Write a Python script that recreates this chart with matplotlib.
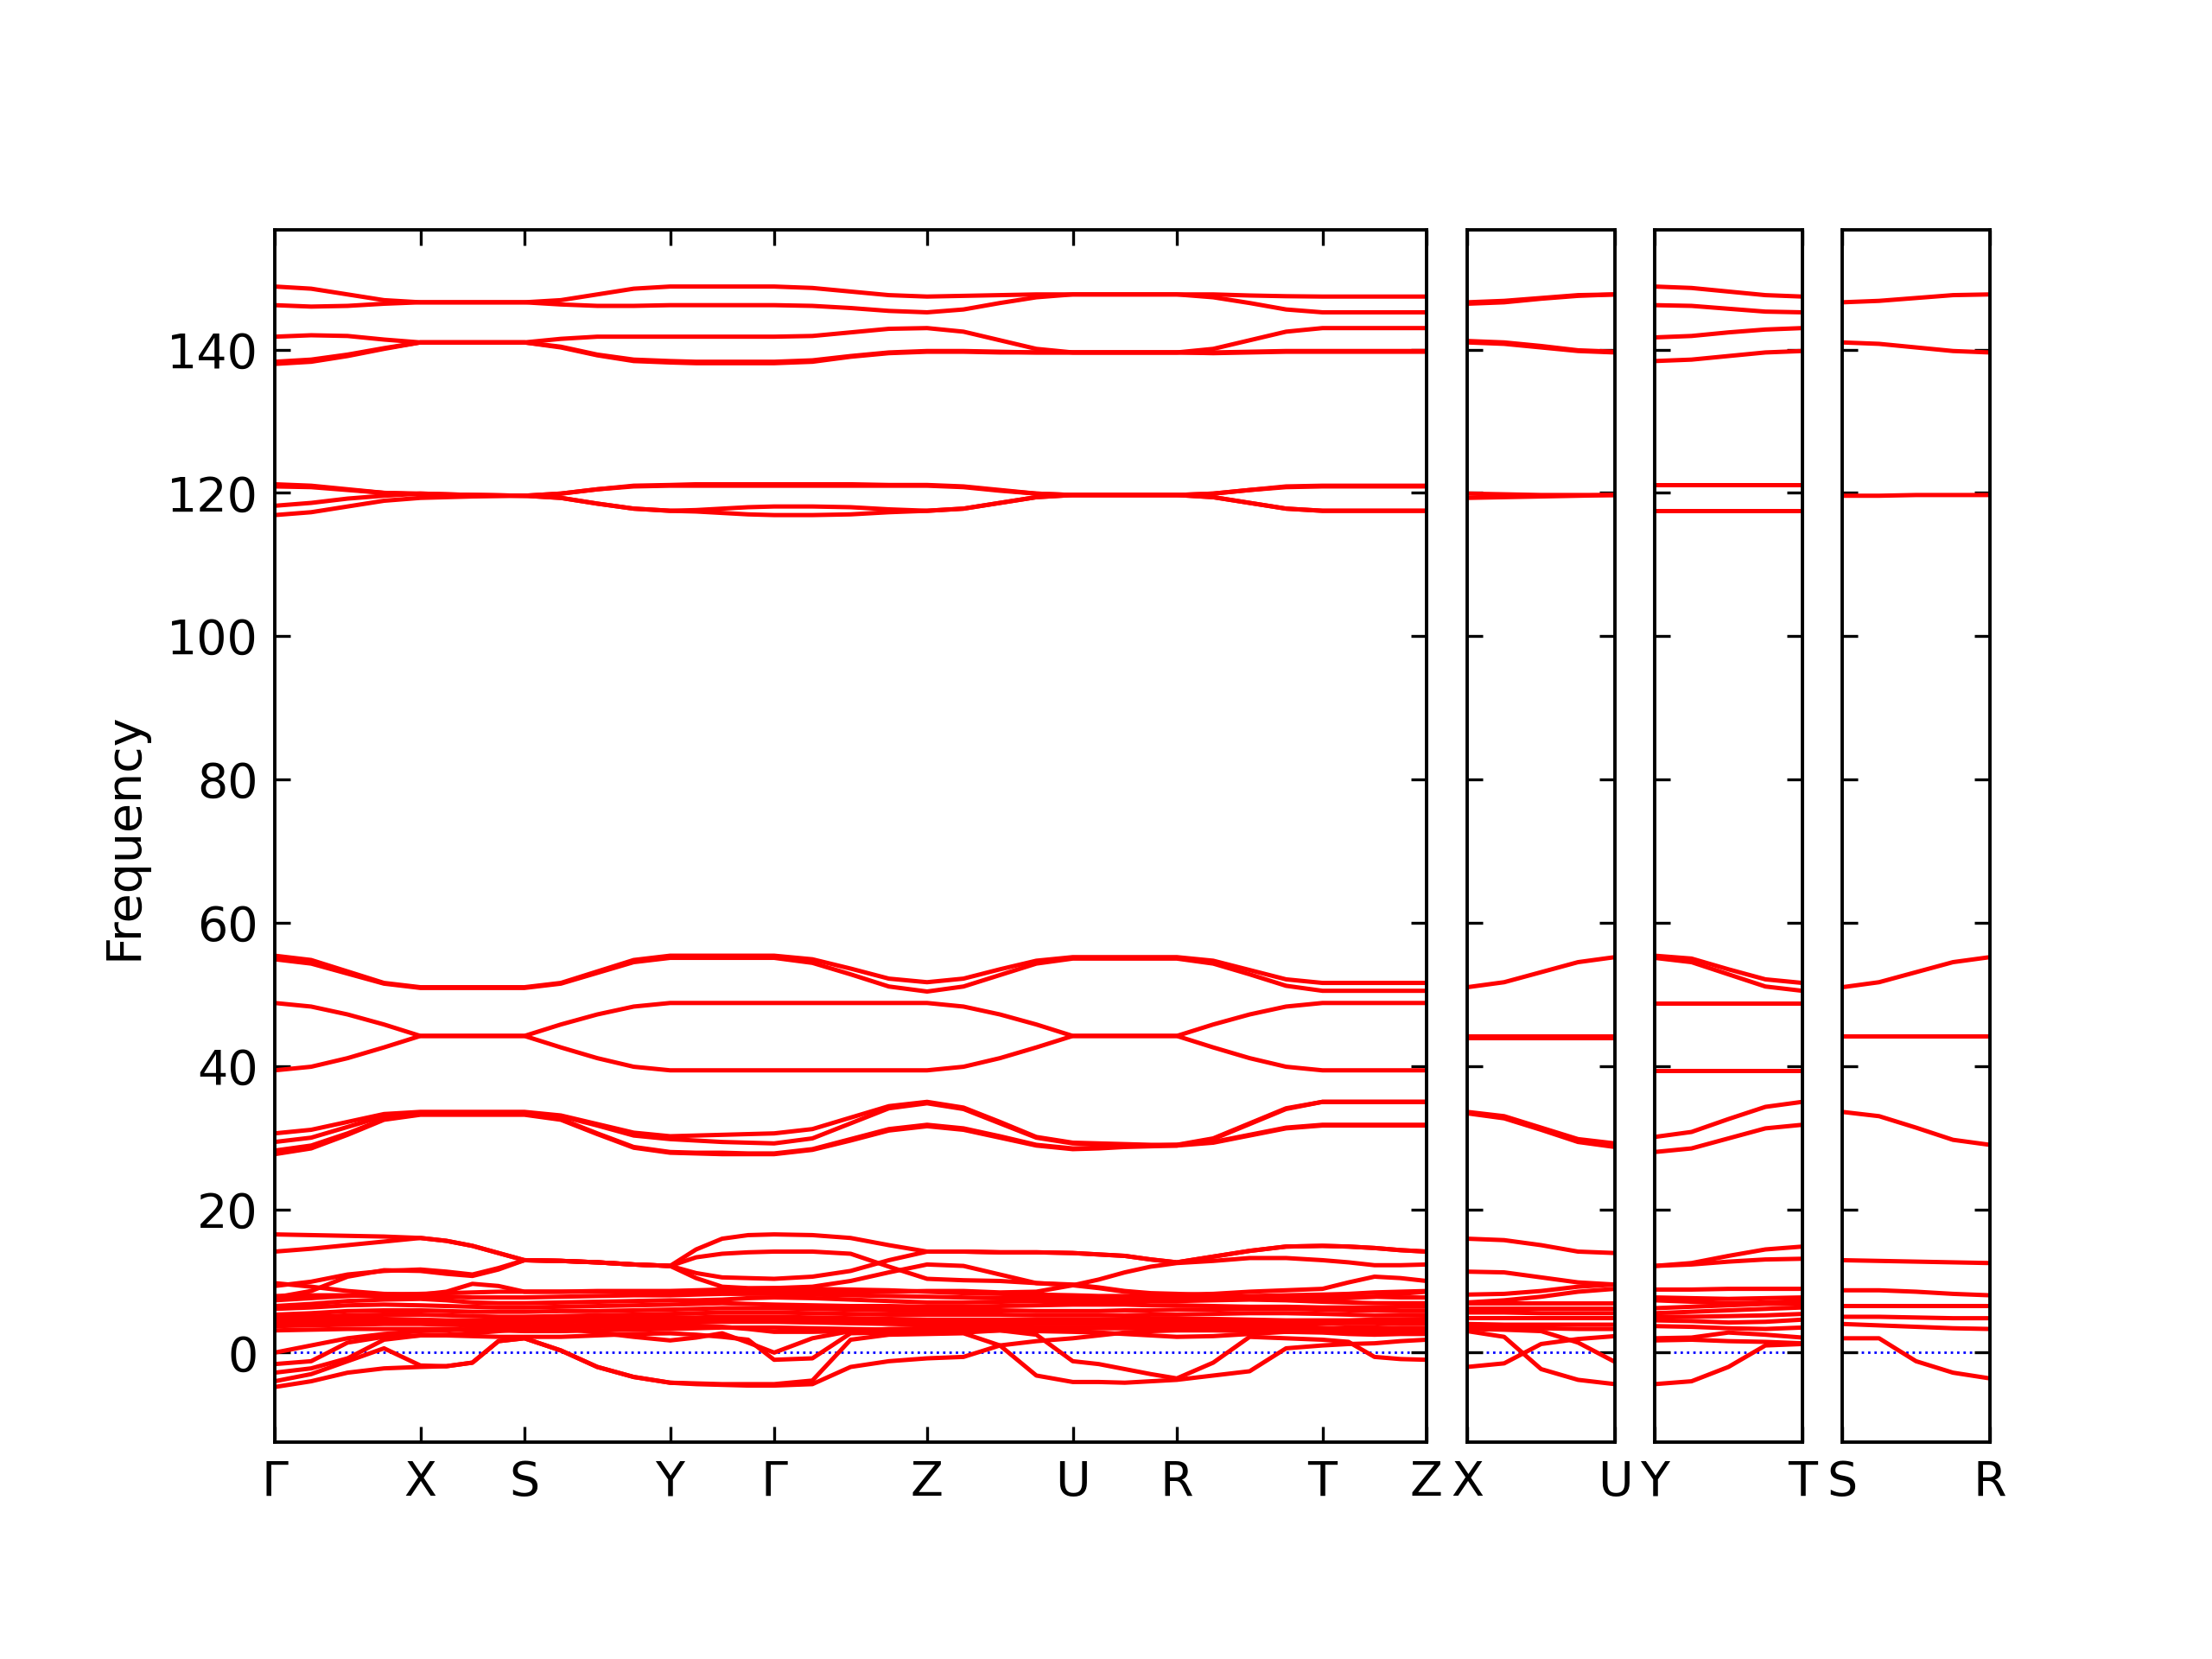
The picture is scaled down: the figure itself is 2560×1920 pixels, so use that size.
import numpy as np
from matplotlib import pyplot as plt

# half reciprocal lattice vectors -> k-path segment lengths
a_half = 0.1686
b_half = 0.1204
c_half = 0.177

main_labels = ['Γ', 'X', 'S', 'Y', 'Γ', 'Z', 'U', 'R', 'T', 'Z']
main_segments = [a_half, b_half, a_half, b_half, c_half, a_half, b_half, a_half, b_half]
side_labels = [['X', 'U'], ['Y', 'T'], ['S', 'R']]

# frequencies along G-X-S-Y-G-Z-U-R-T-Z, read at every quarter of each segment
main_140 = [
    [148.8, 148.5, 147.7, 146.9, 146.6, 146.6, 146.6, 146.6, 146.6, 146.9, 147.7, 148.5, 148.8, 148.8, 148.8, 148.8, 148.8,
     148.6, 148.1, 147.6, 147.4, 147.5, 147.6, 147.7, 147.7, 147.7, 147.7, 147.7, 147.7, 147.7, 147.55, 147.45, 147.4,
     147.4, 147.4, 147.4, 147.4],
    [146.2, 146.0, 146.1, 146.4, 146.6, 146.6, 146.6, 146.6, 146.6, 146.3, 146.1, 146.1, 146.2, 146.2, 146.2, 146.2, 146.2,
     146.1, 145.8, 145.4, 145.2, 145.6, 146.5, 147.3, 147.7, 147.7, 147.7, 147.7, 147.7, 147.3, 146.5, 145.6, 145.2,
     145.2, 145.2, 145.2, 145.2],
    [141.8, 142.0, 141.9, 141.4, 141.0, 141.0, 141.0, 141.0, 141.0, 141.5, 141.8, 141.8, 141.8, 141.8, 141.8, 141.8, 141.8,
     141.9, 142.4, 142.9, 143.0, 142.5, 141.3, 140.1, 139.6, 139.6, 139.6, 139.6, 139.6, 140.1, 141.3, 142.5, 143.0,
     143.0, 143.0, 143.0, 143.0],
    [138.3, 138.6, 139.3, 140.2, 141.0, 141.0, 141.0, 141.0, 141.0, 140.4, 139.3, 138.6, 138.4, 138.3, 138.3, 138.3, 138.3,
     138.5, 139.1, 139.6, 139.8, 139.8, 139.7, 139.6, 139.6, 139.6, 139.6, 139.6, 139.6, 139.6, 139.7, 139.8, 139.8,
     139.8, 139.8, 139.8, 139.8],
    [138.0, 138.3, 139.1, 140.1, 141.0, 141.0, 141.0, 141.0, 141.0, 140.3, 139.2, 138.4, 138.2, 138.1, 138.1, 138.1, 138.1,
     138.3, 139.0, 139.5, 139.7, 139.7, 139.6, 139.6, 139.6, 139.6, 139.6, 139.6, 139.6, 139.5, 139.6, 139.7, 139.7,
     139.7, 139.7, 139.7, 139.7],
]

main_120 = [
    [121.2, 121.0, 120.5, 120.0, 119.8, 119.75, 119.7, 119.65, 119.6, 119.9, 120.5, 121.0, 121.1, 121.2, 121.2, 121.2, 121.2,
     121.2, 121.2, 121.1, 121.1, 120.9, 120.4, 119.9, 119.7, 119.7, 119.7, 119.7, 119.7, 119.9, 120.4, 120.9, 121.0,
     121.0, 121.0, 121.0, 121.0],
    [120.9, 120.8, 120.4, 120.0, 119.9, 119.8, 119.7, 119.65, 119.6, 119.9, 120.5, 120.9, 121.0, 121.0, 121.0, 121.0, 121.0,
     121.0, 121.0, 121.0, 121.0, 120.8, 120.3, 119.9, 119.7, 119.7, 119.7, 119.7, 119.7, 119.9, 120.4, 120.8, 120.9,
     120.9, 120.9, 120.9, 120.9],
    [118.2, 118.6, 119.2, 119.6, 119.9, 119.8, 119.7, 119.65, 119.6, 119.3, 118.5, 117.8, 117.5, 117.6, 117.8, 118.0, 118.1,
     118.1, 118.0, 117.7, 117.5, 117.8, 118.6, 119.4, 119.7, 119.7, 119.7, 119.7, 119.7, 119.4, 118.6, 117.8, 117.5,
     117.5, 117.5, 117.5, 117.5],
    [116.9, 117.3, 118.1, 118.9, 119.3, 119.4, 119.5, 119.55, 119.6, 119.3, 118.5, 117.8, 117.5, 117.4, 117.2, 117.0, 116.9,
     116.9, 117.0, 117.3, 117.5, 117.8, 118.6, 119.4, 119.7, 119.7, 119.7, 119.7, 119.7, 119.4, 118.6, 117.8, 117.5,
     117.5, 117.5, 117.5, 117.5],
]

main_40_55 = [
    [55.4, 54.8, 53.2, 51.6, 51.0, 51.0, 51.0, 51.0, 51.0, 51.6, 53.2, 54.8, 55.4, 55.4, 55.4, 55.4, 55.4,
     54.9, 53.6, 52.2, 51.7, 52.2, 53.5, 54.7, 55.2, 55.2, 55.2, 55.2, 55.2, 54.7, 53.4, 52.1, 51.6,
     51.6, 51.6, 51.6, 51.6],
    [54.9, 54.3, 52.9, 51.5, 50.9, 50.9, 50.9, 50.9, 50.9, 51.5, 53.0, 54.5, 55.1, 55.1, 55.1, 55.1, 55.1,
     54.4, 52.8, 51.1, 50.4, 51.1, 52.7, 54.3, 55.0, 55.0, 55.0, 55.0, 55.0, 54.3, 52.8, 51.2, 50.5,
     50.5, 50.5, 50.5, 50.5],
    [48.8, 48.3, 47.2, 45.8, 44.2, 44.2, 44.2, 44.2, 44.2, 45.8, 47.2, 48.3, 48.8, 48.8, 48.8, 48.8, 48.8,
     48.8, 48.8, 48.8, 48.8, 48.3, 47.2, 45.8, 44.2, 44.2, 44.2, 44.2, 44.2, 45.8, 47.2, 48.3, 48.8,
     48.8, 48.8, 48.8, 48.8],
    [39.4, 39.9, 41.1, 42.6, 44.2, 44.2, 44.2, 44.2, 44.2, 42.6, 41.1, 39.9, 39.4, 39.4, 39.4, 39.4, 39.4,
     39.4, 39.4, 39.4, 39.4, 39.9, 41.1, 42.6, 44.2, 44.2, 44.2, 44.2, 44.2, 42.6, 41.1, 39.9, 39.4,
     39.4, 39.4, 39.4, 39.4],
]

main_30 = [
    [30.6, 31.1, 32.2, 33.3, 33.6, 33.6, 33.6, 33.6, 33.6, 33.1, 31.9, 30.7, 30.2, 30.3, 30.4, 30.5, 30.6,
     31.2, 32.8, 34.4, 35.0, 34.2, 32.2, 30.1, 29.3, 29.2, 29.1, 29.0, 29.0, 29.9, 32.0, 34.1, 35.0,
     35.0, 35.0, 35.0, 35.0],
    [29.4, 30.0, 31.5, 33.0, 33.5, 33.5, 33.5, 33.5, 33.5, 33.0, 31.7, 30.3, 29.8, 29.6, 29.4, 29.3, 29.2,
     29.9, 32.0, 34.1, 34.8, 34.0, 32.0, 30.0, 29.2, 29.1, 29.0, 28.9, 28.9, 29.8, 31.9, 34.0, 35.0,
     35.0, 35.0, 35.0, 35.0],
    [28.2, 28.9, 30.6, 32.6, 33.3, 33.3, 33.3, 33.3, 33.3, 32.6, 30.6, 28.7, 28.0, 27.9, 27.9, 27.8, 27.8,
     28.4, 29.8, 31.2, 31.8, 31.3, 30.2, 29.0, 28.5, 28.6, 28.8, 28.9, 29.0, 29.4, 30.4, 31.4, 31.8,
     31.8, 31.8, 31.8, 31.8],
    [27.7, 28.5, 30.4, 32.5, 33.2, 33.2, 33.2, 33.2, 33.2, 32.5, 30.5, 28.6, 27.9, 27.8, 27.7, 27.7, 27.7,
     28.3, 29.6, 31.0, 31.6, 31.1, 30.0, 28.9, 28.4, 28.5, 28.7, 28.8, 28.9, 29.3, 30.3, 31.3, 31.7,
     31.7, 31.7, 31.7, 31.7],
]

main_low = [
    [16.5, 16.4, 16.3, 16.2, 16.0, 15.6, 14.9, 13.9, 12.9, 12.8, 12.6, 12.3, 12.1, 14.4, 15.9, 16.4, 16.5,
     16.4, 16.0, 15.0, 14.1, 14.1, 14.0, 14.0, 13.9, 13.7, 13.5, 13.0, 12.6, 13.4, 14.2, 14.8, 14.9,
     14.8, 14.6, 14.3, 14.1],
    [14.1, 14.5, 15.0, 15.5, 16.0, 15.6, 14.9, 13.9, 12.9, 12.8, 12.6, 12.3, 12.1, 13.3, 13.8, 14.0, 14.1,
     14.1, 13.8, 12.0, 10.3, 10.1, 10.0, 9.7, 9.4, 9.0, 8.5, 8.2, 8.1, 8.2, 8.5, 8.7, 8.9,
     9.8, 10.6, 10.4, 10.0],
    [7.7, 8.6, 10.6, 11.5, 11.4, 11.0, 10.7, 11.6, 12.9, 12.8, 12.6, 12.3, 12.1, 11.1, 10.5, 10.4, 10.3,
     10.6, 11.4, 12.9, 14.1, 14.1, 14.0, 14.0, 13.9, 13.7, 13.5, 13.0, 12.6, 13.4, 14.2, 14.8, 14.9,
     14.8, 14.6, 14.3, 14.1],
    [9.7, 9.2, 8.6, 8.2, 8.1, 8.5, 9.6, 9.3, 8.5, 8.5, 8.5, 8.5, 8.5, 8.5, 8.5, 8.5, 8.5,
     8.5, 8.5, 8.5, 8.6, 8.6, 8.4, 8.5, 9.4, 10.2, 11.2, 12.0, 12.5, 12.8, 13.2, 13.2, 12.9,
     12.6, 12.2, 12.2, 12.3],
    [9.3, 9.9, 10.9, 11.4, 11.6, 11.3, 10.9, 11.8, 12.9, 12.8, 12.6, 12.3, 12.1, 10.4, 9.2, 9.0, 9.0,
     9.2, 10.0, 11.2, 12.3, 12.1, 10.9, 9.7, 9.5, 9.1, 8.6, 8.3, 8.2, 8.0, 7.8, 7.6, 7.5,
     7.6, 7.8, 8.2, 8.5],
    [7.3, 7.6, 7.9, 8.1, 8.2, 8.3, 8.4, 8.5, 8.5, 8.5, 8.6, 8.6, 8.6, 8.7, 8.8, 8.9, 9.0,
     8.9, 8.8, 8.7, 8.5, 8.3, 8.2, 8.1, 8.0, 7.9, 7.9, 7.8, 7.8, 7.8, 7.9, 8.0, 8.1,
     8.2, 8.4, 8.5, 8.6],
    [7.9, 8.0, 8.0, 7.9, 7.8, 7.8, 7.7, 7.7, 7.7, 7.8, 7.9, 8.0, 8.0, 8.1, 8.2, 8.2, 8.2,
     8.1, 8.0, 7.9, 7.8, 7.7, 7.6, 7.6, 7.6, 7.6, 7.6, 7.5, 7.5, 7.5, 7.6, 7.7, 7.8,
     7.8, 7.8, 7.7, 7.7],
    [6.5, 6.8, 7.2, 7.4, 7.5, 7.3, 7.0, 6.9, 6.9, 7.0, 7.1, 7.2, 7.3, 7.3, 7.4, 7.6, 7.7,
     7.6, 7.4, 7.2, 7.0, 7.0, 7.1, 7.2, 7.2, 7.2, 7.2, 7.2, 7.2, 7.3, 7.4, 7.3, 7.1,
     7.0, 6.9, 6.9, 6.9],
    [6.1, 6.3, 6.6, 6.7, 6.6, 6.5, 6.4, 6.3, 6.3, 6.4, 6.5, 6.6, 6.7, 6.8, 6.9, 6.8, 6.7,
     6.6, 6.5, 6.5, 6.4, 6.4, 6.5, 6.6, 6.7, 6.7, 6.7, 6.6, 6.6, 6.5, 6.4, 6.4, 6.3,
     6.3, 6.3, 6.4, 6.4],
    [5.3, 5.5, 5.8, 5.9, 5.9, 5.8, 5.7, 5.7, 5.7, 5.8, 5.8, 5.9, 6.0, 6.1, 6.2, 6.2, 6.2,
     6.1, 6.0, 5.9, 5.9, 5.9, 5.9, 5.8, 5.8, 5.8, 5.9, 5.9, 6.0, 6.0, 6.1, 6.1, 6.0,
     5.9, 5.9, 5.8, 5.8],
    [4.9, 5.0, 5.2, 5.3, 5.3, 5.2, 5.1, 5.0, 5.0, 5.1, 5.2, 5.3, 5.4, 5.5, 5.6, 5.6, 5.6,
     5.5, 5.4, 5.3, 5.3, 5.3, 5.3, 5.2, 5.2, 5.2, 5.2, 5.3, 5.3, 5.4, 5.5, 5.5, 5.4,
     5.3, 5.2, 5.2, 5.2],
    [4.5, 4.6, 4.7, 4.7, 4.6, 4.5, 4.5, 4.5, 4.5, 4.6, 4.7, 4.8, 4.9, 4.9, 5.0, 5.0, 5.0,
     4.9, 4.8, 4.7, 4.6, 4.6, 4.6, 4.6, 4.6, 4.6, 4.7, 4.7, 4.7, 4.7, 4.6, 4.5, 4.5,
     4.5, 4.6, 4.6, 4.7],
    [4.2, 4.2, 4.3, 4.3, 4.2, 4.1, 4.1, 4.2, 4.2, 4.3, 4.4, 4.4, 4.5, 4.6, 4.6, 4.6, 4.6,
     4.5, 4.4, 4.3, 4.3, 4.3, 4.3, 4.3, 4.3, 4.3, 4.3, 4.3, 4.3, 4.2, 4.1, 4.1, 4.1,
     4.1, 4.1, 4.0, 4.0],
    [3.7, 3.8, 3.9, 4.0, 4.0, 3.9, 3.8, 3.8, 3.7, 3.8, 3.9, 4.0, 4.1, 4.2, 4.3, 4.3, 4.3,
     4.2, 4.1, 4.0, 3.9, 3.9, 4.0, 4.1, 4.1, 4.1, 4.0, 3.9, 3.9, 3.8, 3.7, 3.8, 4.0,
     4.2, 4.4, 4.3, 4.1],
    [3.1, 3.2, 3.3, 3.3, 3.3, 3.3, 3.2, 3.1, 3.0, 3.0, 3.1, 3.2, 3.3, 3.4, 3.5, 3.5, 3.5,
     3.4, 3.3, 3.2, 3.1, 3.1, 3.2, 3.3, 3.3, 3.4, 3.4, 3.4, 3.4, 3.3, 3.2, 3.1, 3.0,
     2.9, 2.8, 2.8, 2.9],
    [-4.8, -4.0, -2.8, -2.2, -2.0, -1.9, -1.4, 1.6, 2.0, 0.3, -2.0, -3.4, -4.2, -4.3, -4.4, -4.4, -4.4,
     -3.9, 1.8, 2.5, 2.6, 2.7, 1.0, -3.2, -4.1, -4.1, -4.2, -4.0, -3.8, -3.2, -2.6, 0.6, 1.0,
     1.2, 1.3, 1.6, 1.8],
    [-2.8, -2.2, -0.8, 1.8, 2.4, 2.5, 2.7, 3.0, 3.3, 3.5, 3.6, 3.7, 3.7, 3.7, 3.6, 3.3, 2.9,
     2.9, 3.0, 2.9, 2.7, 2.8, 3.1, 2.5, -1.2, -1.6, -2.3, -3.0, -3.6, -1.4, 2.2, 2.0, 1.8,
     1.5, -0.6, -0.9, -1.0],
    [-4.0, -3.0, -1.2, 0.6, -1.8, -1.9, -1.4, 1.6, 2.0, 0.3, -2.0, -3.4, -4.2, -4.4, -4.5, -4.6, -4.6,
     -4.4, -2.0, -1.2, -0.8, -0.6, 1.0, 1.6, 2.0, 2.4, 2.8, 3.0, 3.1, 3.1, 3.0, 2.9, 2.8,
     2.6, 2.5, 2.6, 2.6],
    [0.0, 1.0, 2.0, 2.6, 3.0, 3.1, 3.3, 3.5, 3.6, 3.4, 2.8, 2.2, 1.7, 2.1, 2.7, 1.4, 0.0,
     2.0, 3.0, 3.3, 3.4, 3.5, 3.5, 3.6, 3.6, 3.6, 3.6, 3.7, 3.7, 3.6, 3.5, 3.4, 3.4,
     3.5, 3.5, 3.4, 3.4],
    [-1.6, -1.2, 1.4, 2.2, 2.4, 2.4, 2.3, 2.2, 2.2, 2.2, 2.4, 2.6, 2.7, 2.5, 2.2, 1.8, -1.0,
     -0.8, 2.7, 2.8, 2.9, 3.0, 3.1, 3.0, 2.9, 2.8, 2.6, 2.4, 2.2, 2.3, 2.6, 2.9, 3.0,
     3.1, 3.2, 3.2, 3.2],
]

# side paths X-U, Y-T, S-R, read at every quarter
xu_bands = [
    [146.6, 146.8, 147.2, 147.6, 147.7], [146.4, 146.6, 147.1, 147.5, 147.7],
    [141.0, 140.8, 140.3, 139.8, 139.6], [141.2, 141.0, 140.5, 139.9, 139.7],
    [119.9, 119.8, 119.7, 119.7, 119.7], [119.3, 119.4, 119.5, 119.6, 119.7],
    [51.0, 51.7, 53.1, 54.5, 55.2], [44.2, 44.2, 44.2, 44.2, 44.2], [44.0, 44.0, 44.0, 44.0, 44.0],
    [33.6, 33.0, 31.4, 29.8, 29.2], [33.4, 32.7, 31.1, 29.4, 28.7],
    [15.9, 15.7, 15.0, 14.1, 13.9], [11.3, 11.2, 10.5, 9.8, 9.5], [8.1, 8.2, 8.6, 9.2, 9.5],
    [7.0, 7.3, 7.8, 8.5, 8.9], [6.9, 6.9, 6.9, 6.9, 6.9], [6.2, 6.2, 6.2, 6.2, 6.2],
    [5.6, 5.6, 5.5, 5.5, 5.5], [4.9, 4.9, 4.9, 4.9, 4.9], [4.0, 3.9, 3.9, 3.9, 3.9],
    [3.5, 3.5, 3.4, 3.3, 3.3], [3.0, 2.2, -2.3, -3.8, -4.4], [-2.0, -1.5, 1.2, 1.9, 2.3],
    [3.3, 3.2, 3.0, 1.4, -1.3],
]

yt_bands = [
    [148.8, 148.6, 148.1, 147.6, 147.4], [146.2, 146.1, 145.7, 145.3, 145.2],
    [141.7, 141.9, 142.4, 142.8, 143.0], [138.4, 138.6, 139.1, 139.6, 139.8],
    [121.1, 121.1, 121.1, 121.1, 121.1], [117.5, 117.5, 117.5, 117.5, 117.5],
    [55.4, 55.0, 53.5, 52.1, 51.6], [55.1, 54.5, 52.8, 51.1, 50.5],
    [48.8, 48.8, 48.8, 48.8, 48.8], [39.4, 39.4, 39.4, 39.4, 39.4],
    [30.1, 30.8, 32.6, 34.3, 35.0], [28.0, 28.5, 29.9, 31.3, 31.8],
    [12.1, 12.5, 13.5, 14.4, 14.8], [12.1, 12.3, 12.7, 13.0, 13.1], [8.8, 8.8, 8.9, 8.9, 8.9],
    [7.7, 7.6, 7.5, 7.6, 7.7], [7.3, 7.1, 6.9, 7.0, 7.2], [6.2, 6.4, 6.6, 6.8, 6.8],
    [5.5, 5.7, 5.9, 6.1, 6.3], [5.0, 5.0, 5.1, 5.2, 5.4], [4.5, 4.4, 4.2, 4.3, 4.6],
    [3.7, 3.6, 3.4, 3.3, 3.5], [2.0, 2.1, 2.8, 2.5, 2.1], [1.7, 1.8, 1.6, 1.5, 1.3],
    [-4.4, -4.0, -2.0, 1.0, 1.2],
]

sr_bands = [
    [146.6, 146.8, 147.2, 147.6, 147.7], [141.0, 140.8, 140.3, 139.8, 139.6],
    [119.6, 119.6, 119.7, 119.7, 119.7], [51.0, 51.7, 53.1, 54.5, 55.2],
    [44.2, 44.2, 44.2, 44.2, 44.2], [33.6, 33.0, 31.4, 29.7, 29.0],
    [12.9, 12.8, 12.7, 12.6, 12.5], [8.7, 8.7, 8.5, 8.2, 8.0], [6.6, 6.6, 6.6, 6.6, 6.6],
    [5.0, 5.0, 4.9, 4.8, 4.8], [4.0, 3.8, 3.6, 3.4, 3.3], [2.0, 2.0, -1.2, -2.8, -3.6],
]


def path_x(seg_lengths, n=4):
    xs = [0.0]
    ticks = [0.0]
    for L in seg_lengths:
        start = ticks[-1]
        xs += list(start + L * np.arange(1, n + 1) / n)
        ticks.append(start + L)
    return np.array(xs), ticks


def style_axes(ax, ticks, labels, show_y):
    ax.set_xlim(ticks[0], ticks[-1])
    ax.set_ylim(-12.5, 156.7)
    ax.set_xticks(ticks)
    ax.set_xticklabels(labels, fontsize=10)
    ax.set_yticks(range(0, 141, 20))
    ax.tick_params(direction='in', top=True, right=True, length=3.2, width=0.6,
                   labelsize=10)
    if not show_y:
        ax.set_yticklabels([])
    for sp in ax.spines.values():
        sp.set_linewidth(0.7)
    ax.axhline(0, color='blue', ls=':', lw=0.5, zorder=1)


fig = plt.figure(figsize=(6.4, 4.8), dpi=400)

bottom, height = 0.1307, 0.7307
ax_main = fig.add_axes([0.1242, bottom, 0.5207, height])
x_main, t_main = path_x(main_segments)
for group in [main_140, main_120, main_40_55, main_30, main_low]:
    for band in group:
        ax_main.plot(x_main, band, color='red', lw=0.9, solid_joinstyle='round')
style_axes(ax_main, t_main, main_labels, True)
ax_main.set_ylabel('Frequency', fontsize=10)

side_lefts = [0.6633, 0.7480, 0.8328]
side_data = [xu_bands, yt_bands, sr_bands]
x_side, t_side = path_x([c_half])
for left, bands, labels in zip(side_lefts, side_data, side_labels):
    ax = fig.add_axes([left, bottom, 0.0668, height])
    for band in bands:
        ax.plot(x_side, band, color='red', lw=0.9, solid_joinstyle='round')
    style_axes(ax, t_side, labels, False)

fig.savefig('out.png', dpi=400)
